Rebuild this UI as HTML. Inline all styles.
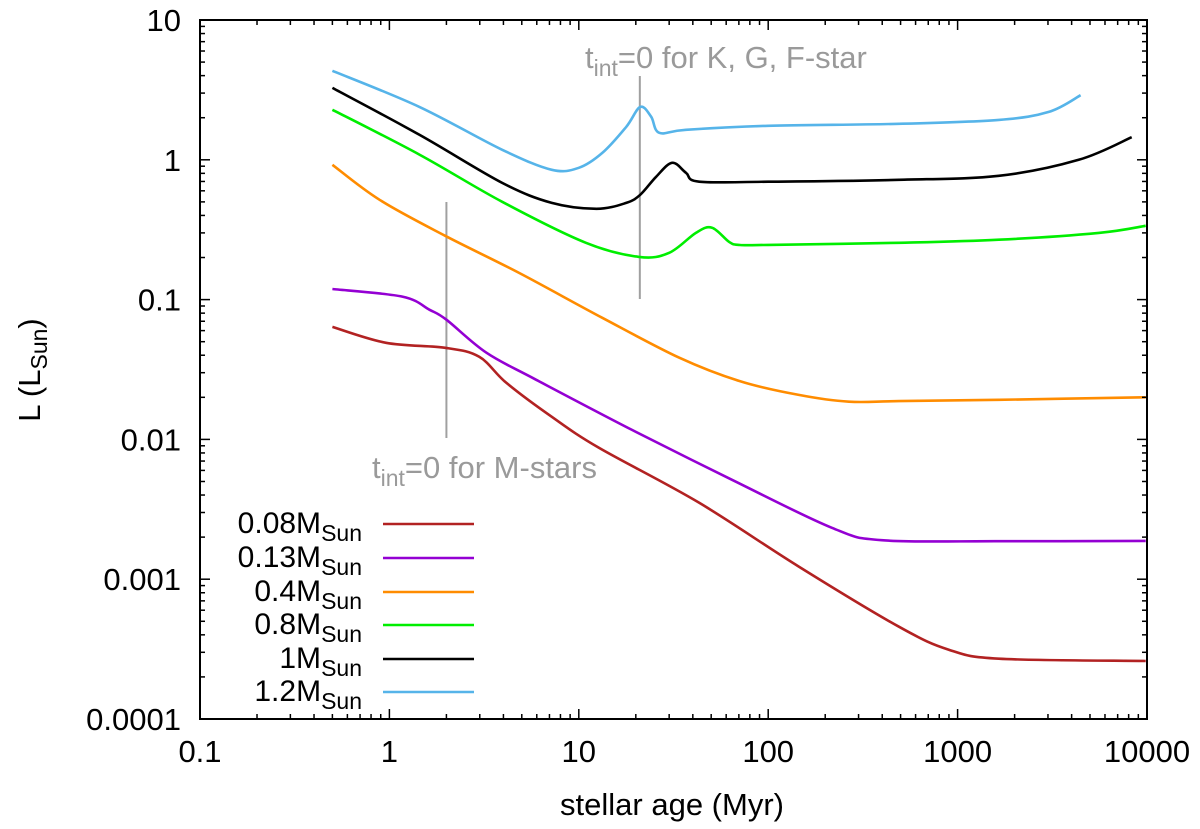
<!DOCTYPE html>
<html><head><meta charset="utf-8">
<style>
html,body{margin:0;padding:0;background:#fff;}
svg{display:block;font-family:"Liberation Sans",Arial,sans-serif;}
</style></head>
<body>
<svg id="chart" width="1200" height="829" viewBox="0 0 1200 829"></svg>
<script>
const xTickVals=[0.1,1,10,100,1000,10000];
const xTickLabels=["0.1","1","10","100","1000","10000"];
const yTickVals=[10,1,0.1,0.01,0.001,0.0001];
const yTickLabels=["10","1","0.1","0.01","0.001","0.0001"];
const seriesNames=["0.08","0.13","0.4","0.8","1","1.2"];
const seriesColors=["#b22222","#9400d3","#ff8c00","#00ee00","#000000","#56b4e9"];
const age008=[0.5,0.96,1.97,2.98,4.14,7.2,12.8,43.2,145,490,899,1650,9840];
const lum008=[0.0638,0.0491,0.0452,0.039,0.0254,0.0145,0.0087,0.00352,0.00123,0.000457,0.000313,0.00027,0.00026];
const age013=[0.5,1.17,1.63,2.0,3.25,5.96,19.1,64.4,217,398,1650,9840];
const lum013=[0.119,0.105,0.0846,0.0718,0.0417,0.0267,0.0117,0.00514,0.00233,0.0019,0.00187,0.00188];
const age04=[0.5,0.885,1.97,4.85,13.3,33.8,70.1,145,267,490,1650,9840];
const lum04=[0.921,0.518,0.286,0.155,0.0741,0.0385,0.0262,0.0208,0.0186,0.0188,0.0192,0.0200];
const age08=[0.5,1.44,3.94,10.9,20.8,30,41.6,50.5,62.1,70.1,100,490,1650,5560,9840];
const lum08=[2.28,1.09,0.501,0.255,0.202,0.216,0.301,0.327,0.259,0.246,0.246,0.255,0.268,0.3,0.337];
const age1=[0.5,1.44,3.94,7.2,12.4,17.8,21.1,25.6,31.1,36.8,43.2,100,490,1650,4360,8300];
const lum1=[3.27,1.51,0.684,0.492,0.446,0.492,0.562,0.756,0.952,0.807,0.697,0.697,0.719,0.768,1.0,1.45];
const age12=[0.5,1.44,3.94,7.2,10.0,13.3,17.8,21.1,24.1,26.6,36.8,100,490,1650,3030,4460];
const lum12=[4.33,2.39,1.18,0.848,0.877,1.12,1.72,2.39,2.03,1.56,1.64,1.75,1.81,1.93,2.2,2.9];
const seriesAges=[age008,age013,age04,age08,age1,age12];
const seriesLums=[lum008,lum013,lum04,lum08,lum1,lum12];

const L=200,R=1147,T=20,B=719;
function X(v){return L+(R-L)*(Math.log10(v)+1)/5;}
function Y(v){return T+(B-T)*(1-Math.log10(v))/5;}
const NS="http://www.w3.org/2000/svg";
const svg=document.getElementById('chart');
function mk(tag,attrs,parent){const e=document.createElementNS(NS,tag);for(const k in attrs)e.setAttribute(k,attrs[k]);(parent||svg).appendChild(e);return e;}

const m1=mk('line',{x1:X(2),x2:X(2),y1:202,y2:438,stroke:'#a0a0a0','stroke-width':2});


const m2=mk('line',{x1:X(21),x2:X(21),y1:76,y2:299,stroke:'#a0a0a0','stroke-width':2});



for(let s=0;s<seriesNames.length;s++){
  const a=seriesAges[s],l=seriesLums[s];
  const pts=a.map((v,i)=>[X(v),Y(l[i])]);
  let d="M"+pts[0][0].toFixed(1)+","+pts[0][1].toFixed(1);
  for(let i=0;i<pts.length-1;i++){
    const p0=pts[Math.max(0,i-1)],p1=pts[i],p2=pts[i+1],p3=pts[Math.min(pts.length-1,i+2)];
    const c1x=p1[0]+(p2[0]-p0[0])/6,c1y=p1[1]+(p2[1]-p0[1])/6;
    const c2x=p2[0]-(p3[0]-p1[0])/6,c2y=p2[1]-(p3[1]-p1[1])/6;
    d+=" C"+c1x.toFixed(1)+","+c1y.toFixed(1)+" "+c2x.toFixed(1)+","+c2y.toFixed(1)+" "+p2[0].toFixed(1)+","+p2[1].toFixed(1);
  }
  const p=mk('path',{d:d,fill:'none',stroke:seriesColors[s],'stroke-width':2.6});
  
  
}

const fr=mk('rect',{x:L,y:T,width:R-L,height:B-T,fill:'none',stroke:'#000','stroke-width':2});



for(let dec=-1;dec<4;dec++){
  for(let k=1;k<=9;k++){
    const v=k*Math.pow(10,dec);const x=X(v);const len=k===1?10:5;
    mk('line',{x1:x,x2:x,y1:B,y2:B-len,stroke:'#000','stroke-width':1.5});
    mk('line',{x1:x,x2:x,y1:T,y2:T+len,stroke:'#000','stroke-width':1.5});
  }
}
for(let dec=-4;dec<1;dec++){
  for(let k=1;k<=9;k++){
    const v=k*Math.pow(10,dec);const y=Y(v);const len=k===1?10:5;
    mk('line',{x1:L,x2:L+len,y1:y,y2:y,stroke:'#000','stroke-width':1.5});
    mk('line',{x1:R,x2:R-len,y1:y,y2:y,stroke:'#000','stroke-width':1.5});
  }
}
xTickVals.forEach((v,i)=>{
  const t=mk('text',{x:X(v),y:762,'text-anchor':'middle','font-size':31,fill:'#000'});
  t.textContent=xTickLabels[i];
  
  
});
yTickVals.forEach((v,i)=>{
  const t=mk('text',{x:181,y:Y(v)+11,'text-anchor':'end','font-size':31,fill:'#000'});
  t.textContent=yTickLabels[i];
  
  
});
</script>
<svg style="position:absolute;left:0;top:0" width="1200" height="829">
  <g font-family="Liberation Sans, Arial, sans-serif">
    <text x="672" y="815" text-anchor="middle" font-size="31">stellar age (Myr)</text>
    <text transform="translate(40,370) rotate(-90)" text-anchor="middle" font-size="31">L (L<tspan font-size="23" dy="7">Sun</tspan><tspan dy="-7">)</tspan></text>
    <text x="585" y="68" font-size="31" fill="#9a9a9a">t<tspan font-size="23" dy="8">int</tspan><tspan dy="-8">=0 for K, G, F-star</tspan></text>
    <text x="372" y="478" font-size="31" fill="#9a9a9a">t<tspan font-size="23" dy="8">int</tspan><tspan dy="-8">=0 for M-stars</tspan></text>
    <g font-size="30" text-anchor="end">
      <text x="362" y="533">0.08M<tspan font-size="23" dy="8">Sun</tspan></text>
      <text x="362" y="567">0.13M<tspan font-size="23" dy="8">Sun</tspan></text>
      <text x="362" y="601">0.4M<tspan font-size="23" dy="8">Sun</tspan></text>
      <text x="362" y="634">0.8M<tspan font-size="23" dy="8">Sun</tspan></text>
      <text x="362" y="668">1M<tspan font-size="23" dy="8">Sun</tspan></text>
      <text x="362" y="701">1.2M<tspan font-size="23" dy="8">Sun</tspan></text>
      <line x1="383" x2="474" y1="524" y2="524" stroke="#b22222" stroke-width="2.6"/>
      <line x1="383" x2="474" y1="558" y2="558" stroke="#9400d3" stroke-width="2.6"/>
      <line x1="383" x2="474" y1="592" y2="592" stroke="#ff8c00" stroke-width="2.6"/>
      <line x1="383" x2="474" y1="625" y2="625" stroke="#00ee00" stroke-width="2.6"/>
      <line x1="383" x2="474" y1="659" y2="659" stroke="#000000" stroke-width="2.6"/>
      <line x1="383" x2="474" y1="692" y2="692" stroke="#56b4e9" stroke-width="2.6"/>
    </g>
  </g>
</svg>
</body></html>
